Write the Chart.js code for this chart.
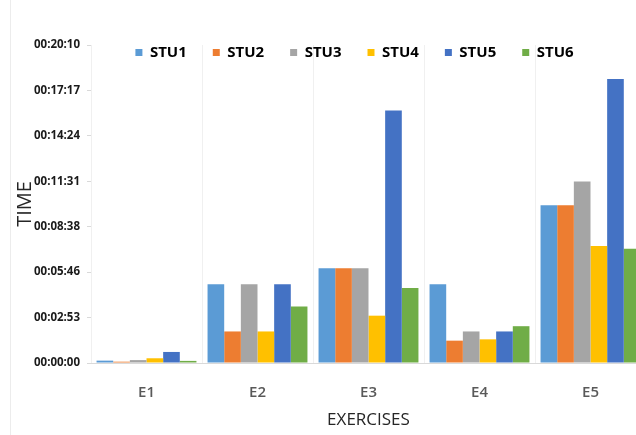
<!DOCTYPE html>
<html>
<head>
<meta charset="utf-8">
<title>Exercise times per student</title>
<style>
  html, body { margin: 0; padding: 0; background: #fff; overflow: hidden; }
  #frame { position: relative; width: 636px; height: 435px; overflow: hidden; }
  #edge { position: absolute; left: 10px; top: 0; width: 0; height: 435px; border-left: 1px solid #ececec; }
  #wrap { position: absolute; left: 0; top: 0; width: 709px; height: 435px; }
</style>
<script src="https://cdn.jsdelivr.net/npm/chart.js@4/dist/chart.umd.min.js"></script>
</head>
<body>
<div id="frame">
  <div id="edge"></div>
  <div id="wrap"><canvas id="chart" width="709" height="435"></canvas></div>
</div>
<script>
// Exercises on the x axis, one bar per student; times are in seconds.
const exercises = ['E1', 'E2', 'E3', 'E4', 'E5'];
const students = ['STU1', 'STU2', 'STU3', 'STU4', 'STU5', 'STU6'];
const stu1 = [9, 300, 360, 300, 600];
const stu2 = [5, 120, 360, 85, 600];
const stu3 = [11, 300, 360, 120, 690];
const stu4 = [18, 120, 180, 90, 445];
const stu5 = [42, 300, 960, 120, 1080];
const stu6 = [8, 215, 285, 140, 435];

// Time axis ticks (one step = 172.8 s)
const timeTickStep = 172.8;
const timeTickLabels = ['00:00:00', '00:02:53', '00:05:46', '00:08:38', '00:11:31', '00:14:24', '00:17:17', '00:20:10'];

const seriesValues = [stu1, stu2, stu3, stu4, stu5, stu6];
const seriesColors = ['#5B9BD5', '#ED7D31', '#A5A5A5', '#FFC000', '#4472C4', '#70AD47'];

Chart.defaults.font.family = "'Open Sans', sans-serif";

// Lets the legend float over the top of the plot instead of taking layout space.
const floatingLegend = {
  id: 'floatingLegend',
  beforeLayout(chart) {
    const lg = chart.legend;
    if (lg && !lg._floating) {
      const fit = lg.fit;
      lg.fit = function () {
        fit.call(this);
        this._fullHeight = this.height;
        this.height = 0;
      };
      lg._floating = true;
    }
  },
  afterLayout(chart, args, opts) {
    const lg = chart.legend;
    if (!lg) return;
    lg.left = opts.left;
    lg.right = opts.right;
    lg.width = opts.right - opts.left;
    lg.top = opts.top;
    lg.height = lg._fullHeight;
    lg.bottom = opts.top + lg._fullHeight;
  }
};

const maxTime = timeTickStep * (timeTickLabels.length - 1);

new Chart(document.getElementById('chart'), {
  type: 'bar',
  data: {
    labels: exercises,
    datasets: students.map((name, i) => ({
      label: name,
      data: seriesValues[i],
      backgroundColor: seriesColors[i],
      borderWidth: 0,
      categoryPercentage: 0.9,
      barPercentage: 1.0
    }))
  },
  options: {
    responsive: false,
    devicePixelRatio: 1,
    animation: false,
    layout: { padding: { left: 0, right: 63, top: 45, bottom: 0 } },
    plugins: {
      floatingLegend: { left: 0, right: 709, top: 19 },
      tooltip: { enabled: false },
      legend: {
        position: 'top',
        labels: {
          boxWidth: 7,
          boxHeight: 7,
          padding: 26,
          color: '#000',
          font: { size: 15, weight: 'bold' }
        }
      }
    },
    scales: {
      x: {
        grid: { color: '#f0f0f0', drawTicks: false, offset: true },
        border: { color: '#d9d9d9' },
        ticks: { color: '#595959', padding: 21, font: { size: 15, weight: '600' } },
        title: {
          display: true,
          text: 'EXERCISES',
          color: '#262626',
          font: { size: 17 },
          padding: { top: 0, bottom: 5 }
        },
        afterFit(scale) { scale.height = 72; }
      },
      y: {
        min: 0,
        max: maxTime,
        grid: { drawOnChartArea: false, drawTicks: true, tickLength: 4, color: '#d9d9d9' },
        border: { display: false },
        afterBuildTicks(scale) {
          scale.ticks = timeTickLabels.map((_, i) => ({ value: i * timeTickStep }));
        },
        ticks: {
          color: '#1a1a1a',
          padding: 7,
          font: { size: 11.5, weight: 'bold' },
          callback(value, index) { return timeTickLabels[index]; }
        },
        title: {
          display: true,
          text: 'TIME',
          color: '#262626',
          font: { size: 20 },
          padding: { top: 13, bottom: 0 }
        },
        afterFit(scale) { scale.width = 91; }
      }
    }
  },
  plugins: [floatingLegend]
});
</script>
</body>
</html>
